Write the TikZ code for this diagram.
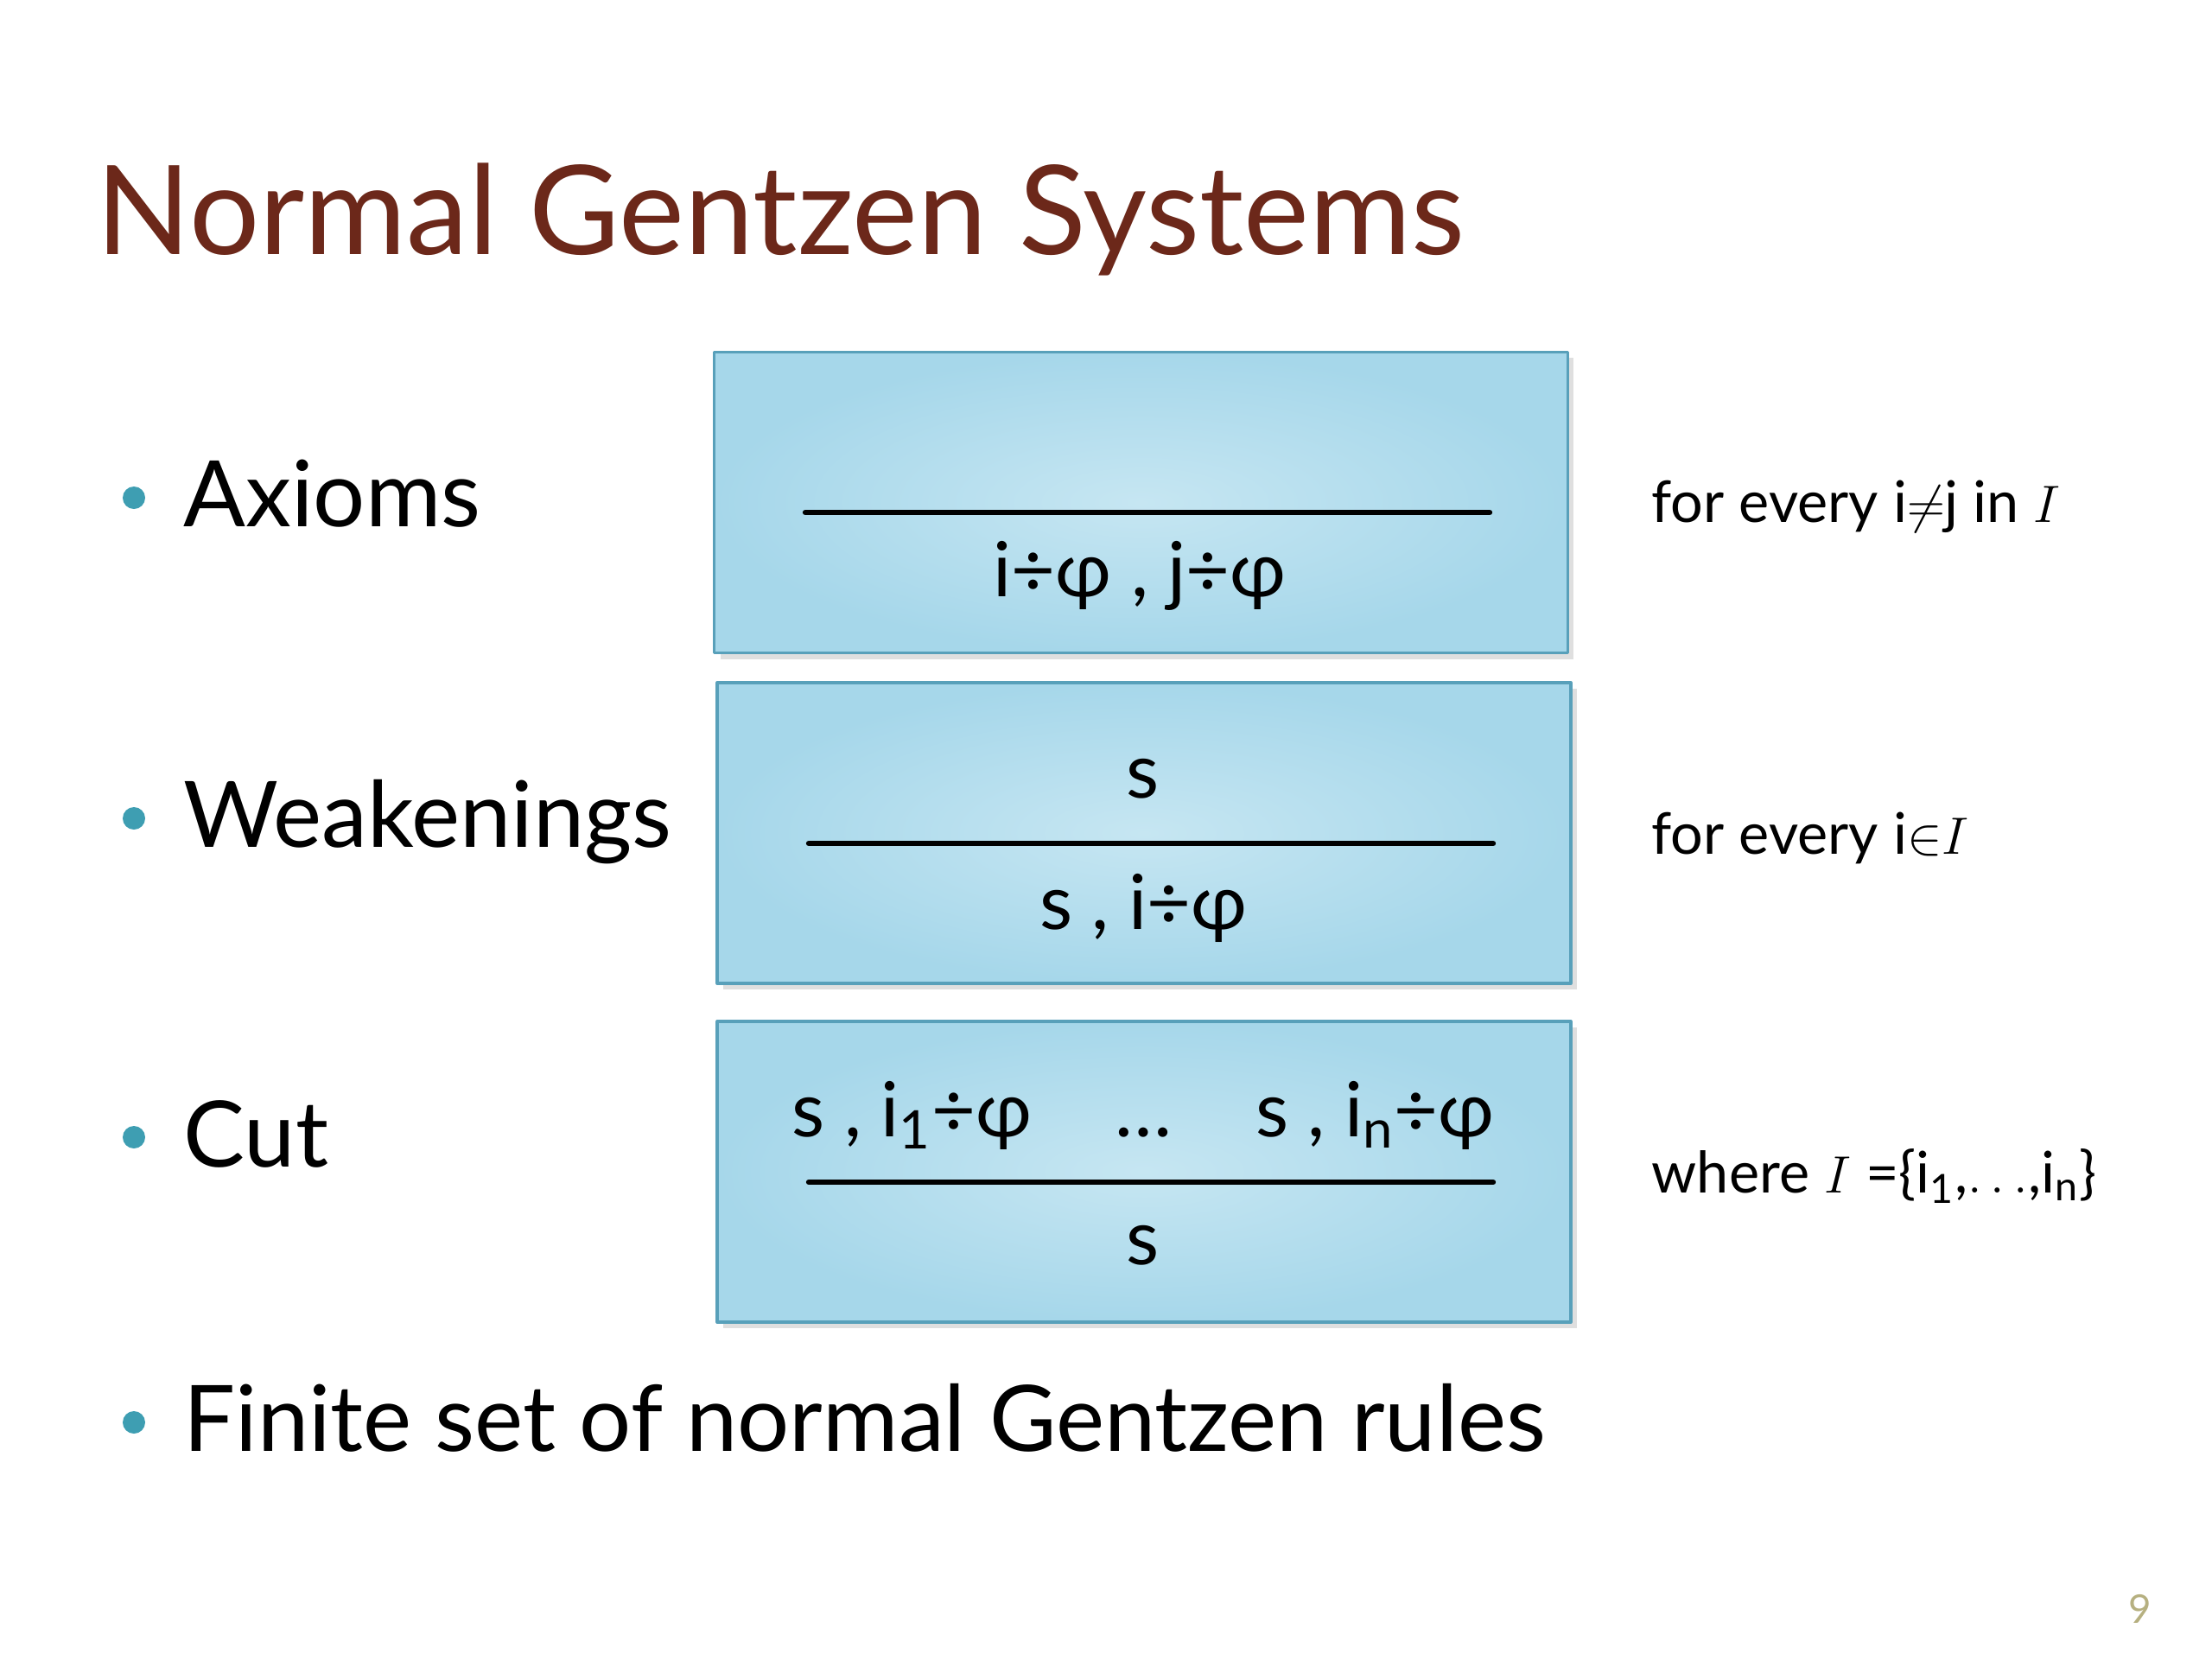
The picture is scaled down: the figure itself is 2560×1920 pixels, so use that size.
\documentclass[tikz,border=0pt]{standalone}
\usepackage{fontspec}
\setmainfont{Lato}
\usetikzlibrary{shadows}
\definecolor{titlered}{RGB}{108,40,26}
\definecolor{bullteal}{RGB}{62,158,178}
\definecolor{boxin}{RGB}{198,230,242}
\definecolor{boxout}{RGB}{166,215,234}
\definecolor{boxedge}{RGB}{88,160,186}
\definecolor{pagenum}{RGB}{182,176,128}
\begin{document}
\begin{tikzpicture}[x=0.01cm,y=-0.01cm,line join=round,line cap=round,
  rulebox/.style={draw=boxedge,line width=1pt,inner color=boxin,outer color=boxout,
    minimum width=9.87cm,minimum height=3.48cm,
    drop shadow={opacity=0.25,shadow xshift=2pt,shadow yshift=-2pt}},
  ruleline/.style={line width=1.8pt,black},
  bigtxt/.style={font=\fontsize{30.2}{36}\selectfont,anchor=base west,inner sep=0},
  smalltxt/.style={font=\fontsize{18.9}{22}\selectfont,anchor=base west,inner sep=0},
  formula/.style={font=\fontsize{25}{30}\selectfont,anchor=base,inner sep=0},
  bull/.style={circle,fill=bullteal,inner sep=0,minimum size=0.26cm}]
 \useasboundingbox (0,0) rectangle (2560,1920);
 % title
 \node[anchor=base west,inner sep=0,text=titlered,font=\fontsize{40.8}{48}\selectfont] (title) at (111,294) {Normal Gentzen Systems};
 % bullets
 \node[bull] (b1) at (155,576) {};
 \node[bull] (b2) at (155,947) {};
 \node[bull] (b3) at (155,1316) {};
 \node[bull] (b4) at (155,1646) {};
 \node[bigtxt] (ax) at (212,609) {Axioms};
 \node[bigtxt] (wk) at (212,980) {Weakenings};
 \node[bigtxt] (ct) at (212,1350) {Cut};
 \node[bigtxt] (fin) at (212,1679) {Finite set of normal Gentzen rules};
 % rule boxes
 \node[rulebox] (axbox) at (1320.5,581.5) {};
 \node[rulebox] (wkbox) at (1324,964) {};
 \node[rulebox] (ctbox) at (1324,1356) {};
 \coordinate (axL) at (932,593); \coordinate (axR) at (1724,593);
 \coordinate (wkL) at (936,976); \coordinate (wkR) at (1728,976);
 \coordinate (ctL) at (936,1368); \coordinate (ctR) at (1728,1368);
 \draw[ruleline] (axL) -- (axR);
 \draw[ruleline] (wkL) -- (wkR);
 \draw[ruleline] (ctL) -- (ctR);
 \node[formula] (axbot) at (1319,690) {i÷φ , j÷φ};
 \node[formula] (wktop) at (1323,923) {s};
 \node[formula] (wkbot) at (1323,1075) {s , i÷φ};
 \node[formula] (cttop) at (1323,1315) {s , i\textsubscript{1}÷φ\hspace{1.1em}…\hspace{1.1em}s , i\textsubscript{n}÷φ};
 \node[formula] (ctbot) at (1323,1463) {s};
 % side conditions
 \node[smalltxt] (axcond) at (1911,604) {for every i$\neq$j in $I$};
 \node[smalltxt] (wkcond) at (1911,988) {for every i$\mathord{\in}I$};
 \node[smalltxt] (ctcond) at (1911,1380) {where $I$ =\{i\textsubscript{1},$\ldots$,i\textsubscript{n}\}};
 \node[font=\fontsize{13}{15}\selectfont,text=pagenum] (page) at (2477,1862) {9};
\end{tikzpicture}
\end{document}
